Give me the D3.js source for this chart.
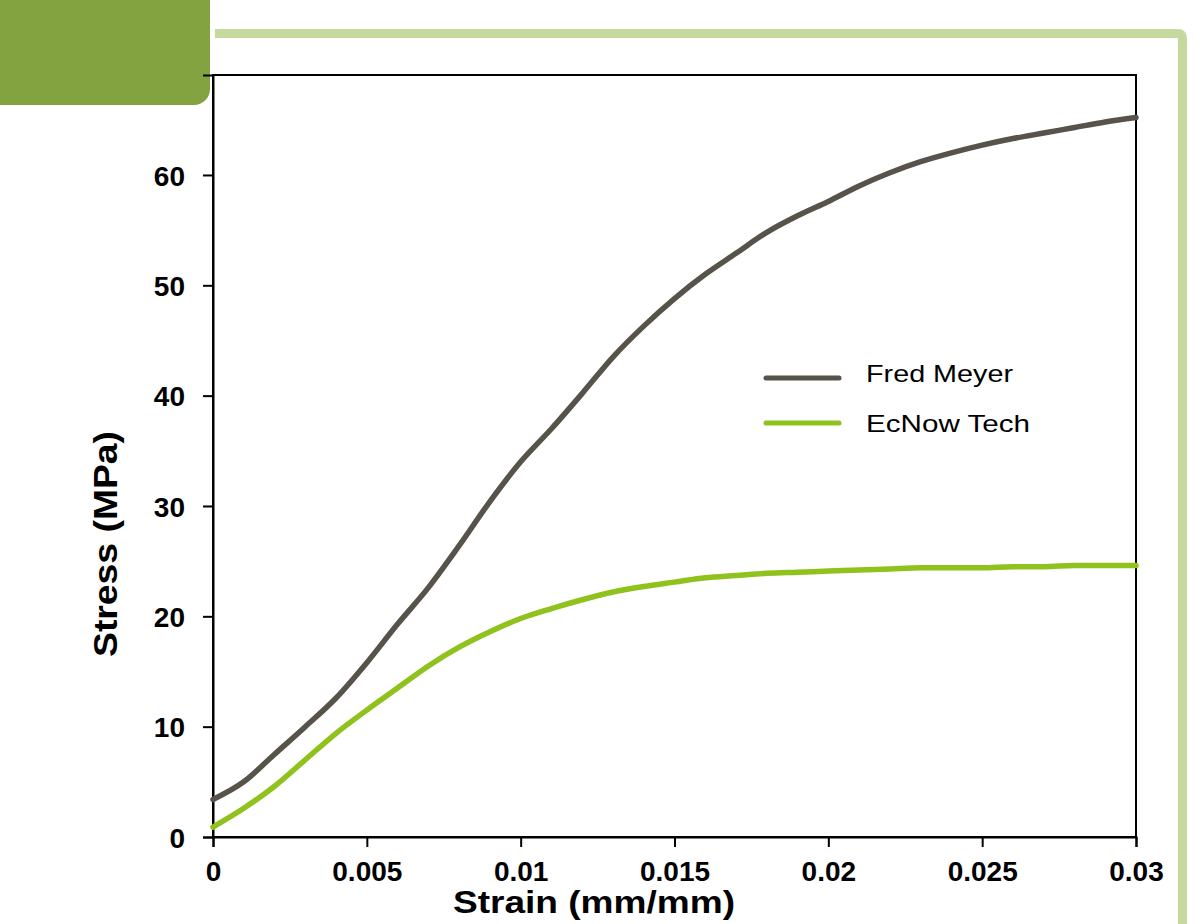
<!DOCTYPE html>
<html>
<head>
<meta charset="utf-8">
<script src="https://cdn.jsdelivr.net/npm/d3@7"></script>
<style>
  body { margin: 0; background: #fff; }
  svg { display: block; font-family: Arial, "Liberation Sans", sans-serif; }
</style>
</head>
<body>
<svg id="chart" width="1200" height="924"></svg>
<script>
// stress-strain curves, every 0.001 mm/mm
const strain = [0, 0.001, 0.002, 0.003, 0.004, 0.005, 0.006, 0.007, 0.008, 0.009,
  0.010, 0.011, 0.012, 0.013, 0.014, 0.015, 0.016, 0.017, 0.018, 0.019,
  0.020, 0.021, 0.022, 0.023, 0.024, 0.025, 0.026, 0.027, 0.028, 0.029, 0.030];
const fredMeyer = [3.4, 5.0, 7.5, 10.0, 12.6, 15.8, 19.3, 22.6, 26.4, 30.4,
  34.0, 37.0, 40.2, 43.5, 46.3, 48.8, 51.0, 52.9, 54.8, 56.3,
  57.6, 59.0, 60.2, 61.2, 62.0, 62.7, 63.3, 63.8, 64.3, 64.8, 65.2];
const ecNowTech = [0.9, 2.6, 4.6, 7.0, 9.4, 11.5, 13.5, 15.5, 17.2, 18.6,
  19.8, 20.7, 21.5, 22.2, 22.7, 23.1, 23.5, 23.7, 23.9, 24.0,
  24.1, 24.2, 24.3, 24.4, 24.4, 24.4, 24.5, 24.5, 24.6, 24.6, 24.6];
const xTicks = [0, 0.005, 0.01, 0.015, 0.02, 0.025, 0.03];
const yTicks = [0, 10, 20, 30, 40, 50, 60];
const seriesNames = ["Fred Meyer", "EcNow Tech"];
const seriesColors = ["#57534b", "#8fc21c"];

const svg = d3.select("#chart");

// slide decoration: dark green tab + light green frame
svg.append("rect")
  .attr("x", -20).attr("y", -20)
  .attr("width", 230).attr("height", 125)
  .attr("rx", 16).attr("ry", 16)
  .style("fill", "#82a33f");
svg.append("path")
  .attr("d", "M215,33.5 L1178,33.5 Q1182.5,33.5 1182.5,38 L1182.5,930")
  .style("fill", "none")
  .style("stroke", "#c6d99c")
  .style("stroke-width", 9);

const pLeft = 213, pRight = 1136, pTop = 75, pBottom = 837;
const x = d3.scaleLinear().domain([0, 0.03]).range([pLeft, pRight]);
const y = d3.scaleLinear().domain([0, 69.06]).range([pBottom, pTop]);

// frame
svg.append("rect")
  .attr("x", pLeft).attr("y", pTop)
  .attr("width", pRight - pLeft).attr("height", pBottom - pTop)
  .style("fill", "none").style("stroke", "#000").style("stroke-width", 2);

const xAxis = svg.append("g")
  .attr("transform", "translate(0," + pBottom + ")")
  .call(d3.axisBottom(x).tickValues(xTicks).tickSize(10).tickPadding(14)
    .tickFormat(d => String(+d.toFixed(3))));
const yAxis = svg.append("g")
  .attr("transform", "translate(" + pLeft + ",0)")
  .call(d3.axisLeft(y).tickValues(yTicks).tickSize(10).tickPadding(18));

[xAxis, yAxis].forEach(function(g){
  g.select(".domain").style("stroke", "#000").style("stroke-width", 2);
  g.selectAll(".tick line").style("stroke", "#000").style("stroke-width", 2);
  g.selectAll(".tick text")
    .style("font-family", "Arial, 'Liberation Sans', sans-serif")
    .style("font-size", "28px").style("font-weight", "bold").style("fill", "#000");
});
xAxis.selectAll(".tick text").attr("dy", "0.71em");
yAxis.selectAll(".tick text").attr("dy", "0.36em");

// curves
const line = d3.line()
  .x((d, i) => x(strain[i]))
  .y(d => y(d))
  .curve(d3.curveMonotoneX);
[fredMeyer, ecNowTech].forEach(function(vals, k){
  svg.append("path")
    .datum(vals)
    .attr("d", line)
    .style("fill", "none")
    .style("stroke", seriesColors[k])
    .style("stroke-width", 5.5)
    .style("stroke-linejoin", "round")
    .style("stroke-linecap", "round");
});

// legend
const legY = [378, 423];
seriesNames.forEach(function(name, k){
  svg.append("line")
    .attr("x1", 766).attr("x2", 839)
    .attr("y1", legY[k]).attr("y2", legY[k])
    .style("stroke", seriesColors[k]).style("stroke-width", 5)
    .style("stroke-linecap", "round");
  svg.append("text")
    .attr("x", 866).attr("y", legY[k] + 4 + (k ? 5 : 0))
    .attr("textLength", k ? 164 : 147)
    .attr("lengthAdjust", "spacingAndGlyphs")
    .style("font-size", "24px")
    .text(name);
});

// axis titles
svg.append("text")
  .attr("x", 594).attr("y", 913)
  .attr("text-anchor", "middle")
  .attr("textLength", 282).attr("lengthAdjust", "spacingAndGlyphs")
  .style("font-size", "31px").style("font-weight", "bold")
  .text("Strain (mm/mm)");
svg.append("text")
  .attr("transform", "translate(117,544) rotate(-90)")
  .attr("text-anchor", "middle")
  .attr("textLength", 226).attr("lengthAdjust", "spacingAndGlyphs")
  .style("font-size", "33px").style("font-weight", "bold")
  .text("Stress (MPa)");
</script>
</body>
</html>
